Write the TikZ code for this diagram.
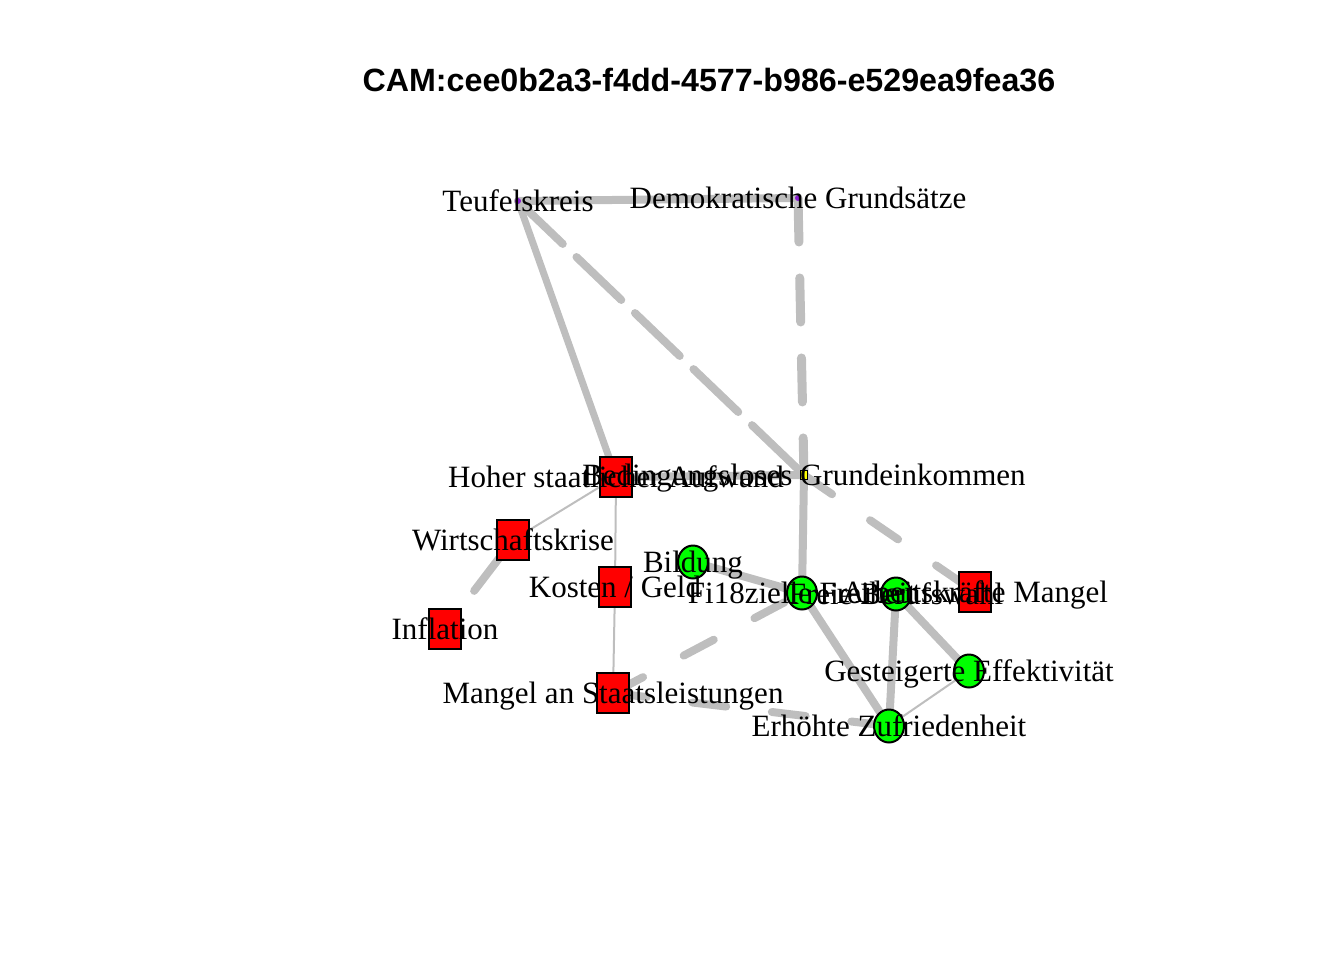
\documentclass[tikz,border=0pt]{standalone}
\usepackage{fontspec}
\setmainfont{Liberation Serif}
\newfontfamily\titlefont{Liberation Sans}
\usetikzlibrary{shapes.geometric}
\definecolor{mEdgeGrey}{HTML}{BEBEBE}
\definecolor{mNodeRed}{HTML}{FF0000}
\definecolor{mNodeGreen}{HTML}{00FF00}
\definecolor{mNodePurple}{HTML}{8A1ED0}
\definecolor{mNodeYellow}{HTML}{FFFF00}

\begin{document}
\begin{tikzpicture}[x=0.5pt, y=-0.5pt,
  negbox/.style={draw=black, line width=1pt, fill=mNodeRed, minimum width=16pt, minimum height=20pt, inner sep=0pt},
  posdot/.style={ellipse, draw=black, line width=1pt, fill=mNodeGreen, minimum width=15pt, minimum height=16.5pt, inner sep=0pt},
  neutdot/.style={circle, fill=mNodePurple, minimum size=3pt, inner sep=0pt},
  ambibox/.style={draw=black, line width=0.8pt, fill=mNodeYellow, minimum width=3.5pt, minimum height=4.5pt, inner sep=0pt},
  lbl/.style={font=\fontsize{15.5}{18}\selectfont, inner sep=0pt, text height=14pt, text depth=3.1pt},
  thickedge/.style={draw=mEdgeGrey, line width=4pt, line cap=round},
  thinedge/.style={draw=mEdgeGrey, line width=1pt},
  dashedge/.style={thickedge, dash pattern=on 17pt off 23pt},
  longdashedge/.style={thickedge, dash pattern=on 31pt off 9.5pt},
  vdashedge/.style={thickedge, line width=4.5pt, dash pattern=on 22pt off 18pt}]
\useasboundingbox (0,0) rectangle (1344,960);
% title
\node[font=\titlefont\bfseries\fontsize{16.1}{20}\selectfont, inner sep=0pt] (title) at (709,80) {CAM:cee0b2a3-f4dd-4577-b986-e529ea9fea36};
% concept positions
\coordinate (tk) at (518,201);
\coordinate (dg) at (798,198);
\coordinate (hsa) at (616,477);
\coordinate (bge) at (804,475);
\coordinate (wk) at (513,540);
\coordinate (kg) at (615,587);
\coordinate (inf) at (445,629);
\coordinate (bil) at (693,562);
\coordinate (fz) at (802,593);
\coordinate (fb) at (896,594);
\coordinate (am) at (975,592);
\coordinate (ge) at (969,671);
\coordinate (mas) at (613,693);
\coordinate (ez) at (889,726);
% links
\draw[thickedge] (tk) -- (dg);
\draw[thickedge, line width=3.5pt] (tk) -- (hsa);
\draw[longdashedge] (tk) -- (bge);
\draw[vdashedge] (dg) -- (bge);
\draw[thickedge] (hsa) -- (bge);
\draw[thickedge] (bge) -- (fz);
\draw[dashedge] (bge) -- (am);
\draw[thinedge] (hsa) -- (wk);
\draw[thinedge] (hsa) -- (kg);
\draw[thinedge] (kg) -- (mas);
\draw[thickedge, shorten >=24pt] (wk) -- (inf);
\draw[thickedge] (bil) -- (fz);
\draw[thickedge] (fz) -- (ez);
\draw[thickedge] (fb) -- (ez);
\draw[thickedge] (fb) -- (ge);
\draw[thinedge] (ge) -- (ez);
\draw[dashedge] (mas) -- (fz);
\draw[dashedge] (mas) -- (ez);
% concepts
\node[neutdot] (tk-v) at (tk) {};
\node[neutdot] (dg-v) at (dg) {};
\node[negbox] (hsa-v) at (hsa) {};
\node[ambibox] (bge-v) at (bge) {};
\node[negbox] (wk-v) at (wk) {};
\node[negbox] (kg-v) at (kg) {};
\node[negbox] (inf-v) at (inf) {};
\node[posdot] (bil-v) at (bil) {};
\node[posdot] (fz-v) at (fz) {};
\node[posdot] (fb-v) at (fb) {};
\node[negbox] (am-v) at (am) {};
\node[posdot] (ge-v) at (ge) {};
\node[negbox] (mas-v) at (mas) {};
\node[posdot] (ez-v) at (ez) {};
% labels
\node[lbl] (tk-l) at (tk) {Teufelskreis};
\node[lbl] (dg-l) at (dg) {Demokratische Grundsätze};
\node[lbl] (hsa-l) at (hsa) {Hoher staatlicher Aufwand};
\node[lbl] (bge-l) at (bge) {Bedingungsloses Grundeinkommen};
\node[lbl] (wk-l) at (wk) {Wirtschaftskrise};
\node[lbl] (kg-l) at (kg) {Kosten / Geld};
\node[lbl] (inf-l) at (inf) {Inflation};
\node[lbl] (bil-l) at (bil) {Bildung};
\node[lbl] (fz-l) at (fz) {Fi18zielle Freiheit};
\node[lbl] (fb-l) at (fb) {Freie Berufswahl};
\node[lbl] (am-l) at (am) {Arbeitskräfte Mangel};
\node[lbl] (ge-l) at (ge) {Gesteigerte Effektivität};
\node[lbl] (mas-l) at (mas) {Mangel an Staatsleistungen};
\node[lbl] (ez-l) at (ez) {Erhöhte Zufriedenheit};
\end{tikzpicture}
\end{document}
